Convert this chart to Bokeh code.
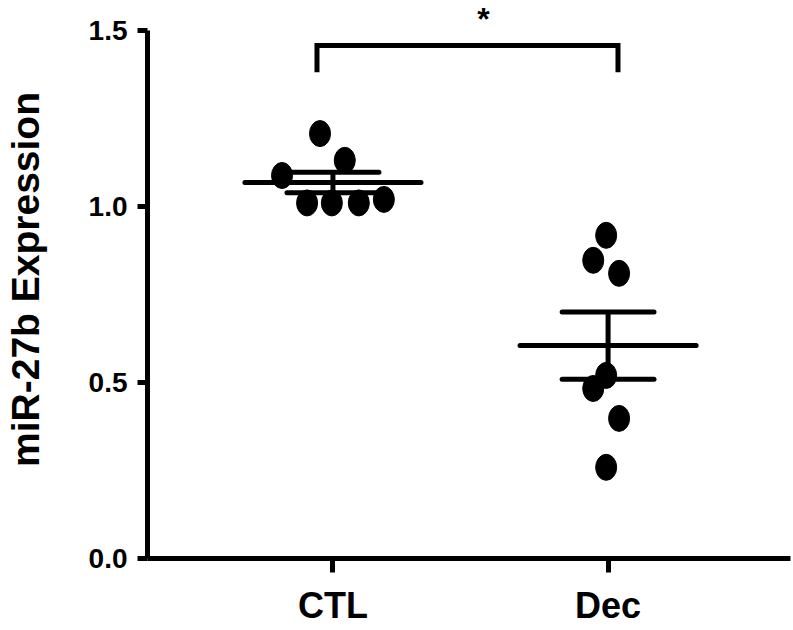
from bokeh.plotting import figure
from bokeh.models import Range1d, FixedTicker, ColumnDataSource, Label
from bokeh.embed import file_html
from bokeh.resources import INLINE
import numpy as np

# ---- data ----
categories = ["CTL", "Dec"]
ctl_values = [1.207, 1.131, 1.088, 1.01, 1.01, 1.01, 1.02]
dec_values = [0.918, 0.847, 0.810, 0.520, 0.483, 0.398, 0.259]
y_ticks = [0.0, 0.5, 1.0, 1.5]
y_tick_labels = ["0.0", "0.5", "1.0", "1.5"]
y_title = "miR-27b Expression"
sig_label = "*"

# ---- layout (horizontal dot spread, data units) ----
ctl_spread = [-0.047, 0.043, -0.185, -0.094, -0.004, 0.094, 0.185]
dec_spread = [-0.007, -0.054, 0.040, -0.007, -0.054, 0.040, -0.007]

FONT = "Liberation Sans"

p = figure(width=793, height=630, output_backend="svg", toolbar_location=None,
           x_range=Range1d(0.326, 2.663), y_range=Range1d(0, 1.585),
           min_border_left=145, min_border_right=3, min_border_top=0, min_border_bottom=72)
p.outline_line_color = None
p.xgrid.visible = False
p.ygrid.visible = False
p.background_fill_color = "white"

groups = [ctl_values, dec_values]
spreads = [ctl_spread, dec_spread]
for i, (vals, spr) in enumerate(zip(groups, spreads)):
    pos = i + 1
    xs = [pos + s for s in spr]
    src = ColumnDataSource(dict(x=xs, y=vals))
    p.ellipse(x="x", y="y", width=21, height=26, width_units="screen", height_units="screen",
              source=src, fill_color="black", line_color="black")
    arr = np.array(vals)
    m = arr.mean()
    sem = arr.std(ddof=1) / np.sqrt(len(arr))
    p.segment(x0=[pos - 0.32], y0=[m], x1=[pos + 0.32], y1=[m], line_width=5, line_color="black", line_cap="round")
    p.segment(x0=[pos - 0.167, pos - 0.167], y0=[m - sem, m + sem], x1=[pos + 0.167, pos + 0.167], y1=[m - sem, m + sem],
              line_width=5, line_color="black", line_cap="round")
    p.segment(x0=[pos], y0=[m - sem], x1=[pos], y1=[m + sem], line_width=5, line_color="black")

# significance bracket
p.line(x=[0.942, 0.942, 2.036, 2.036], y=[1.381, 1.457, 1.457, 1.381], line_width=5, line_color="black", line_join="miter")
p.add_layout(Label(x=1.547, y=1.532, text=sig_label, text_font=FONT, text_font_style="bold",
                   text_font_size="32px", text_align="center", text_baseline="middle", text_color="black"))

# y axis
ya = p.yaxis[0]
ya.bounds = (0, 1.5)
ya.ticker = FixedTicker(ticks=y_ticks)
ya.major_label_overrides = {t: l for t, l in zip(y_ticks, y_tick_labels)}
ya.axis_label = y_title
ya.axis_label_text_font = FONT
ya.axis_label_text_font_style = "bold"
ya.axis_label_text_font_size = "39px"
ya.axis_label_text_color = "black"
ya.axis_label_standoff = 39
ya.major_label_text_font = FONT
ya.major_label_text_font_style = "bold"
ya.major_label_text_font_size = "28px"
ya.major_label_text_color = "black"
ya.major_label_standoff = 10
ya.axis_line_width = 5
ya.major_tick_line_width = 5
ya.major_tick_out = 10
ya.major_tick_in = 0
ya.minor_tick_line_color = None

# x axis
xa = p.xaxis[0]
xa.ticker = FixedTicker(ticks=[1, 2])
xa.major_label_overrides = {i + 1: c for i, c in enumerate(categories)}
xa.major_label_text_font = FONT
xa.major_label_text_font_style = "bold"
xa.major_label_text_font_size = "36px"
xa.major_label_text_color = "black"
xa.major_label_standoff = 12
xa.axis_line_width = 5
xa.major_tick_line_width = 5
xa.major_tick_out = 14
xa.major_tick_in = 0
xa.minor_tick_line_color = None

open("out.html", "w").write(file_html(p, INLINE))
